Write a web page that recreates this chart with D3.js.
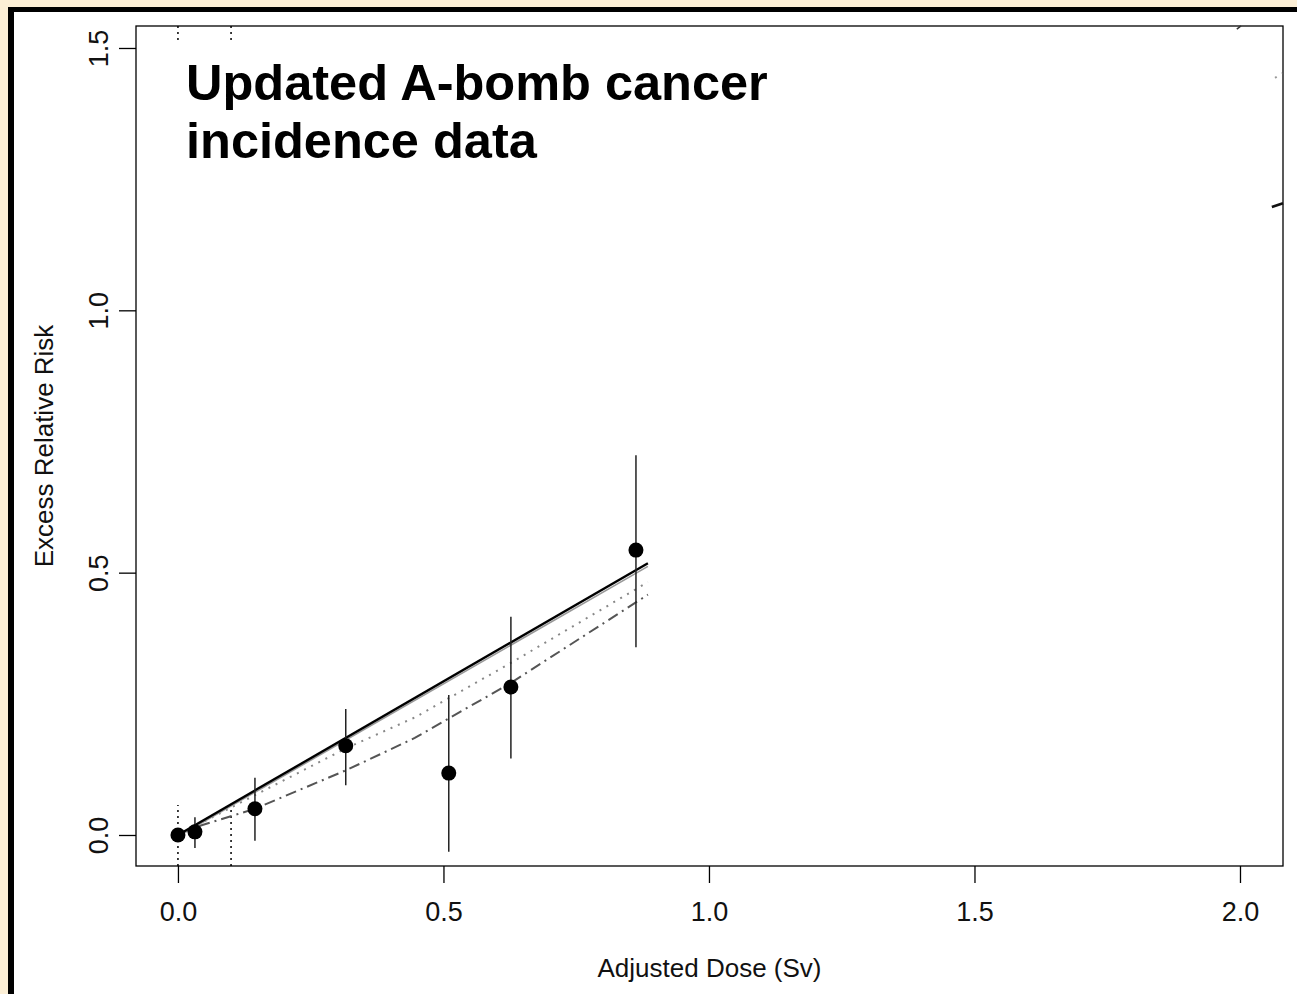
<!DOCTYPE html>
<html>
<head>
<meta charset="utf-8">
<script src="https://cdn.jsdelivr.net/npm/d3@7"></script>
<style>
  body { margin: 0; background: #fcefd6; overflow: hidden; }
  svg { display: block; font-family: "Liberation Sans", Arial, sans-serif; }
</style>
</head>
<body>
<div id="chart"></div>
<script>
const width = 1297;
const height = 994;

// observed data points: dose (Sv), ERR and error bar limits
const doses = [0.0, 0.032, 0.145, 0.316, 0.51, 0.627, 0.8625];
const err = [0.0, 0.006, 0.05, 0.17, 0.118, 0.282, 0.543];
const errLow = [0.0, -0.025, -0.011, 0.095, -0.032, 0.146, 0.358];
const errHigh = [0.0, 0.034, 0.109, 0.24, 0.267, 0.416, 0.724];

// fitted curves, [dose, ERR]
const fitLinear = [[0.005, 0.003], [0.885, 0.518]];
const fitLinearGrey = [[0.005, 0.0], [0.885, 0.512]];
const fitDotted = [[0.01, 0.005], [0.145, 0.076], [0.318, 0.166], [0.446, 0.224], [0.627, 0.328], [0.885, 0.482]];
const fitDashDot = [[0.04, 0.017], [0.145, 0.05], [0.318, 0.124], [0.446, 0.185], [0.627, 0.29], [0.885, 0.458]];

// bits of curves left showing at the right edge
const tailTop = [[1.994, 1.536], [2.002, 1.542]];
const tailGrey = [[2.066, 1.443], [2.079, 1.452]];
const tailDash = [[2.060, 1.197], [2.081, 1.204]];

// vertical dotted reference lines and the parts of them that show
const refDoses = [0, 0.1];
const refBands = [[1.515, 1.542], [-0.059, 0.057]];

const xTicks = [0, 0.5, 1.0, 1.5, 2.0];
const yTicks = [0, 0.5, 1.0, 1.5];

const svg = d3.select("#chart").append("svg")
    .attr("width", width)
    .attr("height", height);

// frame
svg.append("rect").attr("x", 8).attr("y", 7).attr("width", width).attr("height", height).attr("fill", "#000");
svg.append("rect").attr("x", 14).attr("y", 12).attr("width", width).attr("height", height).attr("fill", "#fff");

const x = d3.scaleLinear().domain([-0.079, 2.081]).range([136, 1283]);
const y = d3.scaleLinear().domain([-0.0591, 1.5419]).range([866, 26]);

const line = d3.line().x(d => x(d[0])).y(d => y(d[1]));

// reference lines
refDoses.forEach(dv => {
    refBands.forEach(b => {
        svg.append("line")
            .attr("x1", x(dv)).attr("x2", x(dv))
            .attr("y1", y(b[0])).attr("y2", y(b[1]))
            .attr("stroke", "#000").attr("stroke-width", 1.5)
            .attr("stroke-dasharray", "2,4");
    });
});

// plot box
svg.append("rect")
    .attr("x", 136).attr("y", 26)
    .attr("width", 1283 - 136).attr("height", 866 - 26)
    .attr("fill", "none").attr("stroke", "#000").attr("stroke-width", 1.3);

// axes
const xAxis = svg.append("g")
    .attr("transform", `translate(0,866)`)
    .call(d3.axisBottom(x).tickValues(xTicks).tickFormat(d3.format(".1f")).tickSize(17).tickPadding(19));
xAxis.select(".domain").attr("stroke", "none");
xAxis.selectAll("line").attr("stroke-width", 1.3);
xAxis.selectAll("text").attr("font-size", 27).attr("fill", "#111")
    .style("font-family", "'Liberation Sans', Arial, sans-serif");

const yAxis = svg.append("g")
    .attr("transform", `translate(136,0)`)
    .call(d3.axisLeft(y).tickValues(yTicks).tickFormat(d3.format(".1f")).tickSize(17));
yAxis.select(".domain").attr("stroke", "none");
yAxis.selectAll("line").attr("stroke-width", 1.3);
yAxis.selectAll("text")
    .attr("x", 0).attr("dy", 0)
    .attr("transform", "translate(-28,0) rotate(-90)")
    .attr("text-anchor", "middle")
    .attr("font-size", 27).attr("fill", "#111")
    .style("font-family", "'Liberation Sans', Arial, sans-serif");

svg.append("text")
    .attr("x", 709.5).attr("y", 977)
    .attr("text-anchor", "middle")
    .attr("font-size", 26)
    .attr("fill", "#111")
    .text("Adjusted Dose (Sv)");

svg.append("text")
    .attr("transform", "translate(53,446) rotate(-90)")
    .attr("text-anchor", "middle")
    .attr("font-size", 26)
    .attr("fill", "#111")
    .text("Excess Relative Risk");

// fitted curves
svg.append("path").datum(fitDashDot).attr("d", line)
    .attr("fill", "none").attr("stroke", "#555").attr("stroke-width", 2)
    .attr("stroke-dasharray", "11,5,2,5");
svg.append("path").datum(fitDotted).attr("d", line)
    .attr("fill", "none").attr("stroke", "#888").attr("stroke-width", 2)
    .attr("stroke-dasharray", "2,6");
svg.append("path").datum(fitLinearGrey).attr("d", line)
    .attr("fill", "none").attr("stroke", "#999").attr("stroke-width", 1.6);
svg.append("path").datum(fitLinear).attr("d", line)
    .attr("fill", "none").attr("stroke", "#000").attr("stroke-width", 2.4);

svg.append("path").datum(tailTop).attr("d", line)
    .attr("fill", "none").attr("stroke", "#333").attr("stroke-width", 1.5);
svg.append("path").datum(tailGrey).attr("d", line)
    .attr("fill", "none").attr("stroke", "#999").attr("stroke-width", 2)
    .attr("stroke-dasharray", "2,6");
svg.append("path").datum(tailDash).attr("d", line)
    .attr("fill", "none").attr("stroke", "#111").attr("stroke-width", 2.8);

// error bars and points
const pts = doses.map((d, i) => ({ dose: d, err: err[i], lo: errLow[i], hi: errHigh[i] }));

svg.append("g").selectAll("line")
    .data(pts.filter(p => p.hi > p.lo))
    .enter()
    .append("line")
    .attr("x1", d => x(d.dose)).attr("x2", d => x(d.dose))
    .attr("y1", d => y(d.hi)).attr("y2", d => y(d.lo))
    .attr("stroke", "#222").attr("stroke-width", 1.5);

svg.append("g").selectAll("circle")
    .data(pts)
    .enter()
    .append("circle")
    .attr("cx", d => x(d.dose))
    .attr("cy", d => y(d.err))
    .attr("r", 7.5)
    .attr("fill", "#000");

// title
const title = svg.append("text")
    .attr("x", 186).attr("y", 100)
    .attr("font-size", 50.5)
    .attr("font-weight", "bold");
title.append("tspan").attr("x", 186).attr("y", 100).text("Updated A-bomb cancer");
title.append("tspan").attr("x", 186).attr("y", 158).text("incidence data");
</script>
</body>
</html>
